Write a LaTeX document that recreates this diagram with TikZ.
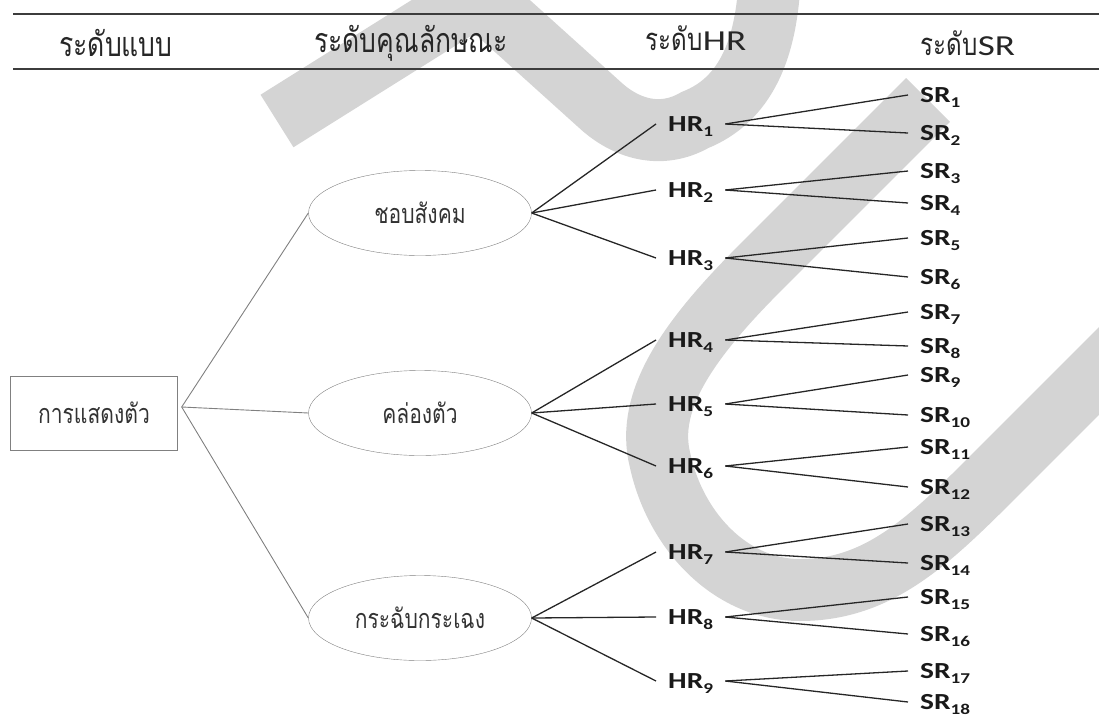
\documentclass[tikz,border=0pt]{standalone}
\usepackage{fontspec}
\newfontfamily\thaifont[Script=Thai, FakeStretch=0.78]{Loma}
\newfontfamily\lblfont[FakeStretch=1.28]{Carlito}
\usetikzlibrary{shapes,positioning,calc}
\definecolor{wmgray}{RGB}{212,212,212}
\definecolor{rulegray}{RGB}{60,60,60}
\newcommand{\hrsub}[1]{\raisebox{-5pt}{\fontsize{15}{15}\selectfont #1}}
\tikzset{
    block/.style = {draw=gray, rectangle, 
        minimum height=74pt, 
        minimum width=167pt, align=center,
        font=\thaifont\fontsize{27}{31}\selectfont, text=black!80},
    attr/.style = {draw=gray, ellipse, inner sep=0pt,
        minimum height=85pt, minimum width=223pt,
        font=\thaifont\fontsize{27}{31}\selectfont, text=black!80},
    head/.style = {font=\thaifont\fontsize{34}{38}\selectfont, text=black!85},
    hr/.style = {anchor=west, inner xsep=12pt, inner ysep=0pt,
        text height=15pt, text depth=0pt,
        font=\lblfont\bfseries\fontsize{23}{27}\selectfont, text=black!90},
    sr/.style = {hr},
    branch/.style = {draw, gray, line width=0.9pt},
    wire/.style = {draw, black!85, line width=1.3pt}
}

\begin{document}
\begin{tikzpicture}[x=1pt, y=-1pt, node distance=200pt]
    \useasboundingbox (0,0) rectangle (1099,717);
    % watermark
    \begin{scope}
        \clip (0,0) rectangle (1099,717);
        \draw [wmgray, line width=62pt, line join=miter] (277,121) -- (478,-5) -- (600,105)
            .. controls (625,128) and (660,140) .. (695,120)
            .. controls (745,100) and (768,50) .. (770,-30);
        \draw [wmgray, line width=62pt] (928,100) -- (760,268)
            .. controls (690,338) and (645,400) .. (660,460)
            .. controls (675,530) and (730,590) .. (800,590)
            .. controls (880,590) and (930,540) .. (1000,470) -- (1160,310);
    \end{scope}
    % header rules
    \draw [rulegray, line width=1.8pt] (13,14) -- (1099,14);
    \draw [rulegray, line width=1.8pt] (13,69) -- (1099,69);
    \node [head] (h1) at (116,43) {ระดับแบบ};
    \node [head] (h2) at (411,43) {ระดับคุณลักษณะ};
    \node [head] (h3) at (696,38) {\fontsize{31}{35}\selectfont ระดับ{\lblfont\fontsize{29}{33}\selectfont HR}};
    \node [head] (h4) at (968,43) {\fontsize{31}{35}\selectfont ระดับ{\lblfont\fontsize{29}{33}\selectfont SR}};
    % type and traits
    \node [block] (root) at (94,413) {การแสดงตัว};
    \node [attr, right of=root, node distance=326pt] (a2) {คล่องตัว};
    \node [attr, above of=a2] (a1) {ชอบสังคม};
    \node [attr, below of=a2, node distance=205pt] (a3) {กระฉับกระเฉง};
    \coordinate (fork) at ([shift={(4,-6)}]root.east);
    \draw [branch] (fork) -- (a1.west);
    \draw [branch] (fork) -- (a2.west);
    \draw [branch] (fork) -- (a3.west);
    % HR level
    \node [hr] (hr1) at (656,124) {HR\hrsub{1}};
    \node [hr] (hr2) at (656,190) {HR\hrsub{2}};
    \node [hr] (hr3) at (656,258) {HR\hrsub{3}};
    \node [hr] (hr4) at (656,340) {HR\hrsub{4}};
    \node [hr] (hr5) at (656,404) {HR\hrsub{5}};
    \node [hr] (hr6) at (656,466) {HR\hrsub{6}};
    \node [hr] (hr7) at (656,552) {HR\hrsub{7}};
    \node [hr] (hr8) at (656,617) {HR\hrsub{8}};
    \node [hr] (hr9) at (656,681) {HR\hrsub{9}};
    \draw [wire] (a1.east) -- (hr1.west);
    \draw [wire] (a1.east) -- (hr2.west);
    \draw [wire] (a1.east) -- (hr3.west);
    \draw [wire] (a2.east) -- (hr4.west);
    \draw [wire] (a2.east) -- (hr5.west);
    \draw [wire] (a2.east) -- (hr6.west);
    \draw [wire] (a3.east) -- (hr7.west);
    \draw [wire] (a3.east) -- (hr8.west);
    \draw [wire] (a3.east) -- (hr9.west);
    % SR level
    \node [sr] (sr1) at (908,95) {SR\hrsub{1}};
    \node [sr] (sr2) at (908,133) {SR\hrsub{2}};
    \node [sr] (sr3) at (908,171) {SR\hrsub{3}};
    \node [sr] (sr4) at (908,203) {SR\hrsub{4}};
    \node [sr] (sr5) at (908,238) {SR\hrsub{5}};
    \node [sr] (sr6) at (908,277) {SR\hrsub{6}};
    \node [sr] (sr7) at (908,312) {SR\hrsub{7}};
    \node [sr] (sr8) at (908,346) {SR\hrsub{8}};
    \node [sr] (sr9) at (908,375) {SR\hrsub{9}};
    \node [sr] (sr10) at (908,415) {SR\hrsub{10}};
    \node [sr] (sr11) at (908,447) {SR\hrsub{11}};
    \node [sr] (sr12) at (908,487) {SR\hrsub{12}};
    \node [sr] (sr13) at (908,524) {SR\hrsub{13}};
    \node [sr] (sr14) at (908,563) {SR\hrsub{14}};
    \node [sr] (sr15) at (908,597) {SR\hrsub{15}};
    \node [sr] (sr16) at (908,634) {SR\hrsub{16}};
    \node [sr] (sr17) at (908,671) {SR\hrsub{17}};
    \node [sr] (sr18) at (908,702) {SR\hrsub{18}};
    \draw [wire] (hr1.east) -- (sr1.west);
    \draw [wire] (hr1.east) -- (sr2.west);
    \draw [wire] (hr2.east) -- (sr3.west);
    \draw [wire] (hr2.east) -- (sr4.west);
    \draw [wire] (hr3.east) -- (sr5.west);
    \draw [wire] (hr3.east) -- (sr6.west);
    \draw [wire] (hr4.east) -- (sr7.west);
    \draw [wire] (hr4.east) -- (sr8.west);
    \draw [wire] (hr5.east) -- (sr9.west);
    \draw [wire] (hr5.east) -- (sr10.west);
    \draw [wire] (hr6.east) -- (sr11.west);
    \draw [wire] (hr6.east) -- (sr12.west);
    \draw [wire] (hr7.east) -- (sr13.west);
    \draw [wire] (hr7.east) -- (sr14.west);
    \draw [wire] (hr8.east) -- (sr15.west);
    \draw [wire] (hr8.east) -- (sr16.west);
    \draw [wire] (hr9.east) -- (sr17.west);
    \draw [wire] (hr9.east) -- (sr18.west);
\end{tikzpicture}
\end{document}
